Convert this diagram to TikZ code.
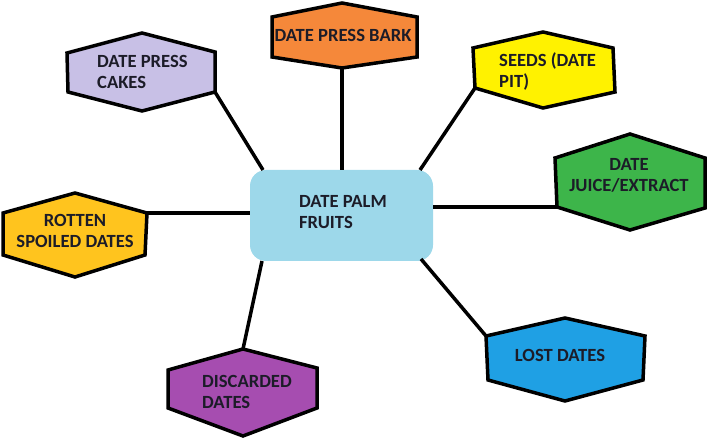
\documentclass[tikz,border=0pt]{standalone}
\usepackage{fontspec}
\setmainfont{Carlito}
\begin{document}
\begin{tikzpicture}[x=1pt,y=-1pt,
  hexa/.style={draw=black,line width=3.5pt,line join=miter},
  conn/.style={draw=black,line width=3.5pt},
  lbl/.style={inner sep=0pt,font=\fontsize{18.6}{21}\selectfont\bfseries,text=txt},
]
\definecolor{txt}{HTML}{1C1C28}
\definecolor{cLav}{HTML}{C8C0E6}
\definecolor{cOra}{HTML}{F5883A}
\definecolor{cYel}{HTML}{FFF200}
\definecolor{cGre}{HTML}{3DB54A}
\definecolor{cGol}{HTML}{FFC41E}
\definecolor{cSky}{HTML}{9DD8EA}
\definecolor{cBlu}{HTML}{1FA0E4}
\definecolor{cPur}{HTML}{A64DB0}
\useasboundingbox (0,0) rectangle (709,438);

% centre rectangle
\node[fill=cSky,rounded corners=16pt,minimum width=183pt,minimum height=91pt,inner sep=0pt] (fruit) at (341.5,215.5) {};
\node[lbl,align=left,anchor=west] (fruitT) at (299,212) {DATE PALM\\FRUITS};

% cakes
\path[hexa,fill=cLav] (142,33) coordinate (cakT) -- (67,53) -- (68,92) -- (142,111) -- (215,92) coordinate (cakLR) -- (215,52) -- cycle;
\node[lbl,align=left,anchor=west] (cakes) at (97,72) {DATE PRESS\\CAKES};

% bark
\path[hexa,fill=cOra] (342,3) -- (272,17) -- (272,57) -- (342,68) coordinate (barB) -- (417,57) -- (417,17) -- cycle;
\node[lbl] (bark) at (343,35) {DATE PRESS BARK};

% seeds
\path[hexa,fill=cYel] (543,32) -- (473,48) -- (475,88) coordinate (seeLL) -- (543,108) -- (615,92) -- (613,48) -- cycle;
\node[lbl,align=left,anchor=west] (seeds) at (499,72) {SEEDS (DATE\\PIT)};

% juice
\path[hexa,fill=cGre] (630,134) -- (555,158) -- (557,207) coordinate (juiLL) -- (630,230) -- (705,208) -- (705,158) -- cycle;
\node[lbl,align=center] (juice) at (629,175) {DATE\\JUICE/EXTRACT};

% rotten
\path[hexa,fill=cGol] (75,193) -- (3,213) -- (3,255) -- (75,277) -- (145,255) -- (147,213) coordinate (rotUR) -- cycle;
\node[lbl,align=center] (rotten) at (75,231) {ROTTEN\\SPOILED DATES};

% lost
\path[hexa,fill=cBlu] (565,318) -- (486,336) coordinate (losUL) -- (488,380) -- (565,401) -- (643,380) -- (645,336) -- cycle;
\node[lbl] (lost) at (560,355) {LOST DATES};

% discarded
\path[hexa,fill=cPur] (243,349) coordinate (disT) -- (168,370) -- (168,408) -- (243,436) -- (317,408) -- (317,368) -- cycle;
\node[lbl,align=left,anchor=west] (disc) at (202,392) {DISCARDED\\DATES};

% connectors
\draw[conn] (cakLR) -- (263,170);
\draw[conn] (barB) -- (barB |- fruit.north);
\draw[conn] (seeLL) -- (420,170);
\draw[conn] (juiLL) -- (juiLL -| fruit.east);
\draw[conn] (rotUR) -- (rotUR -| fruit.west);
\draw[conn] (losUL) -- (421,259);
\draw[conn] (disT) -- (262,261);
\end{tikzpicture}
\end{document}
